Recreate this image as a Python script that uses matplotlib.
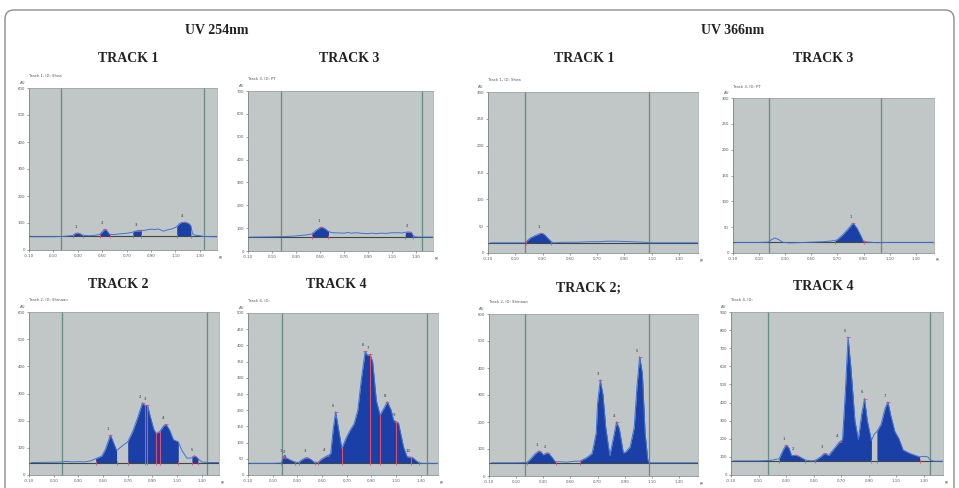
import numpy as np
import matplotlib
matplotlib.use("Agg")
import matplotlib.pyplot as plt
from matplotlib.patches import FancyBboxPatch
from matplotlib.transforms import IdentityTransform

# ---------------- data (Rf vs AU) ----------------
rf_ticks = [-0.10, 0.10, 0.30, 0.50, 0.70, 0.90, 1.10, 1.30]

# UV 254 nm, Track 1
uv254_t1_rf = [-0.08, 0.10, 0.17, 0.22, 0.26, 0.28, 0.30, 0.32, 0.34, 0.40, 0.45, 0.48, 0.51, 0.52,
               0.54, 0.56, 0.60, 0.65, 0.70, 0.75, 0.77, 0.80, 0.82, 0.84, 0.87, 0.90, 0.93, 0.96,
               1.00, 1.03, 1.07, 1.11, 1.13, 1.15, 1.18, 1.21, 1.225, 1.24, 1.26, 1.30, 1.33, 1.44]
uv254_t1_au = [49, 49, 50, 52, 54, 61, 63, 60, 54, 53, 55, 58, 72, 77,
               70, 58, 57, 60, 62, 66, 70, 72, 73, 72, 75, 77, 76, 78,
               70, 74, 78, 86, 97, 102, 103, 98, 90, 60, 55, 53, 50, 49]
uv254_t1_peaks = [0.30, 0.52, 0.80, 1.17]
uv254_t1_fill = [(0.26, 0.34), (0.48, 0.56), (0.75, 0.82), (1.11, 1.225)]

# UV 254 nm, Track 3
uv254_t3_rf = [-0.08, 0.10, 0.20, 0.30, 0.38, 0.43, 0.47, 0.51, 0.54, 0.57, 0.60, 0.65, 0.70, 0.73,
               0.76, 0.80, 0.85, 0.90, 0.93, 0.97, 1.00, 1.05, 1.10, 1.15, 1.19, 1.21, 1.23, 1.26,
               1.27, 1.29, 1.33, 1.44]
uv254_t3_au = [61, 62, 63, 66, 70, 74, 92, 105, 98, 85, 80, 79, 78, 81,
               78, 80, 77, 76, 78, 76, 78, 77, 80, 80, 79, 82, 83, 82,
               70, 62, 61, 61]
uv254_t3_peaks = [0.51, 1.24]
uv254_t3_fill = [(0.43, 0.57), (1.21, 1.27)]

# UV 366 nm, Track 1
uv366_t1_rf = [-0.08, 0.10, 0.17, 0.175, 0.21, 0.25, 0.29, 0.31, 0.33, 0.36, 0.38, 0.45, 0.55, 0.65,
               0.72, 0.77, 0.84, 0.95, 1.05, 1.08, 1.20, 1.44]
uv366_t1_au = [19, 19, 19, 20, 28, 33, 37, 35, 30, 22, 19, 20, 20, 21,
               21, 22, 22, 21, 20, 19, 19, 19]
uv366_t1_peaks = [0.29]
uv366_t1_fill = [(0.175, 0.36)]

# UV 366 nm, Track 3
uv366_t3_rf = [-0.08, 0.10, 0.17, 0.19, 0.22, 0.25, 0.28, 0.33, 0.40, 0.50, 0.60, 0.68, 0.70, 0.74,
               0.78, 0.82, 0.85, 0.88, 0.90, 0.94, 1.00, 1.10, 1.44]
uv366_t3_au = [20.5, 20.5, 21, 25, 29, 26, 21, 19.5, 20, 21, 22, 24, 26, 35,
               46, 58, 48, 33, 22, 21, 20, 20.5, 20.5]
uv366_t3_peaks = [0.82]
uv366_t3_fill = [(0.68, 0.90)]

# UV 254 nm, Track 2
uv254_t2_rf = [-0.08, 0.10, 0.17, 0.20, 0.25, 0.30, 0.35, 0.40, 0.44, 0.49, 0.52, 0.56, 0.58, 0.61,
               0.65, 0.70, 0.74, 0.78, 0.82, 0.84, 0.86, 0.88, 0.91, 0.93, 0.96, 0.99, 1.01, 1.04,
               1.07, 1.11, 1.14, 1.18, 1.22, 1.24, 1.26, 1.27, 1.30, 1.35, 1.44]
uv254_t2_au = [46, 47, 48, 50, 48, 49, 48, 52, 60, 70, 95, 147, 125, 90,
               105, 122, 160, 210, 266, 255, 257, 220, 170, 153, 160, 180, 187, 165,
               130, 122, 90, 62, 63, 71, 65, 60, 48, 46, 46]
uv254_t2_peaks = [0.56, 0.82, 0.86, 1.01, 1.24]
uv254_t2_fill = [(0.44, 0.61), (0.70, 1.11), (1.22, 1.27)]
uv254_t2_splits = [0.84, 0.86, 0.93, 0.96]

# UV 254 nm, Track 4
uv254_t4_rf = [-0.08, 0.10, 0.17, 0.185, 0.20, 0.21, 0.225, 0.25, 0.28, 0.31, 0.33, 0.36, 0.38, 0.41,
               0.44, 0.47, 0.50, 0.54, 0.57, 0.59, 0.61, 0.63, 0.66, 0.70, 0.73, 0.76, 0.79, 0.82,
               0.85, 0.87, 0.89, 0.91, 0.94, 0.97, 1.00, 1.03, 1.06, 1.08, 1.10, 1.12, 1.16, 1.19,
               1.22, 1.24, 1.27, 1.29, 1.32, 1.44]
uv254_t4_au = [36, 36, 37, 55, 62, 52, 50, 45, 40, 38, 45, 52, 54, 48,
               38, 40, 50, 59, 65, 140, 195, 150, 82, 118, 140, 158, 200, 300,
               382, 368, 372, 350, 230, 185, 205, 226, 200, 169, 165, 160, 87, 56,
               55, 52, 42, 37, 36, 36]
uv254_t4_peaks = [0.185, 0.21, 0.38, 0.54, 0.61, 0.85, 0.89, 1.03, 1.10, 1.22]
uv254_t4_fill = [(0.17, 0.28), (0.31, 0.44), (0.47, 1.29)]
uv254_t4_splits = [0.66, 0.89, 0.97, 1.10, 1.22]

# UV 366 nm, Track 2
uv366_t2_rf = [-0.08, 0.10, 0.18, 0.21, 0.24, 0.27, 0.29, 0.30, 0.32, 0.335, 0.36, 0.39, 0.43, 0.47,
               0.54, 0.57, 0.62, 0.66, 0.69, 0.70, 0.72, 0.74, 0.76, 0.79, 0.82, 0.84, 0.86, 0.89,
               0.91, 0.94, 0.97, 0.99, 1.01, 1.03, 1.05, 1.07, 1.08, 1.20, 1.44]
uv366_t2_au = [49, 49, 50, 65, 82, 93, 85, 78, 84, 86, 72, 52, 53, 51,
               55, 55, 68, 84, 160, 270, 356, 300, 180, 75, 150, 201, 175, 85,
               90, 108, 180, 330, 442, 380, 160, 60, 49, 49, 49]
uv366_t2_peaks = [0.27, 0.335, 0.72, 0.84, 1.01]
uv366_t2_fill = [(0.18, 0.39), (0.57, 1.08)]

# UV 366 nm, Track 4
uv366_t4_rf = [-0.08, 0.10, 0.17, 0.20, 0.25, 0.28, 0.30, 0.32, 0.34, 0.36, 0.37, 0.40, 0.44, 0.48,
               0.51, 0.55, 0.58, 0.61, 0.66, 0.69, 0.71, 0.73, 0.75, 0.77, 0.80, 0.825, 0.85, 0.87,
               0.89, 0.92, 0.94, 0.96, 0.99, 1.02, 1.04, 1.06, 1.09, 1.12, 1.15, 1.20, 1.27, 1.30,
               1.33, 1.35, 1.38, 1.44]
uv366_t4_au = [78, 78, 80, 82, 90, 140, 165, 150, 107, 108, 110, 100, 83, 78,
               80, 100, 119, 108, 156, 184, 195, 450, 762, 600, 300, 195, 340, 422,
               300, 190, 225, 240, 280, 370, 404, 330, 240, 200, 138, 119, 100, 103,
               100, 80, 76, 76]
uv366_t4_peaks = [0.30, 0.37, 0.58, 0.69, 0.75, 0.87, 1.04]
uv366_t4_fill = [(0.25, 0.44), (0.51, 0.92), (0.96, 1.27)]

# ---------------- styling ----------------
W, H = 959, 488
fig = plt.figure(figsize=(W / 100, H / 100), dpi=100)
fig.patch.set_facecolor("white")

BG = "#c0c7c6"
GREEN = "#678c83"
BASE = "#3e4848"
TRACE = "#3f72d6"
FILL = "#1a3fa6"
RED = "#e0506e"

def add_panel(box, rf, au, baseline, ymax, ystep, start, front, fills, peaks,
              head, splits=()):
    l, t, r, b = box
    ax = fig.add_axes([l / W, 1 - b / H, (r - l) / W, (b - t) / H])
    ax.set_facecolor(BG)
    x = np.array(rf)
    y = np.array(au)
    ax.set_xlim(-0.10, 1.44)
    ax.set_ylim(0, ymax)
    ax.axvline(start, color=GREEN, lw=0.9, zorder=1)
    ax.axvline(front, color=GREEN, lw=0.9, zorder=1)
    for a, c in fills:
        m = (x >= a - 1e-9) & (x <= c + 1e-9)
        ax.fill_between(x[m], y[m], baseline, color=FILL, lw=0, zorder=2)
    ax.plot(x, y, color=TRACE, lw=0.7, zorder=3)
    ax.axhline(baseline, color=BASE, lw=0.8, zorder=2.5)
    for s in splits:
        ax.plot([s, s], [baseline, np.interp(s, x, y)], color=RED, lw=0.8, zorder=3.5)
    edges = sorted({v for pair in fills for v in pair} | set(splits))
    ax.plot(edges, [baseline] * len(edges), ls="none", marker="|", ms=2.5,
            mew=0.6, color=RED, zorder=4)
    for i, p in enumerate(peaks):
        py = np.interp(p, x, y)
        ax.plot([p], [py], marker="_", ms=2.5, mew=0.6, color=RED, zorder=4)
        ax.text(p - 0.02, py + ymax * 0.025, str(i + 1), fontsize=2.8,
                color="#333", ha="center", va="bottom")
    ax.set_xticks(rf_ticks)
    ax.set_xticklabels([f"{v:.2f}" for v in rf_ticks])
    yt = np.arange(0, ymax + 0.1, ystep)
    ax.set_yticks(yt)
    ax.set_yticklabels([f"{v:g}" for v in yt])
    ax.tick_params(labelsize=2.8, length=1.5, width=0.4, pad=1.5,
                   colors="#555555")
    for sp in ax.spines.values():
        sp.set_color("#9aa2a2")
        sp.set_linewidth(0.5)
    ax.spines["left"].set_color("#707878")
    ax.spines["bottom"].set_color("#707878")
    ax.text(-0.02, 1.02, "AU", transform=ax.transAxes, fontsize=2.8,
            color="#555", ha="right", va="bottom")
    ax.text(1.01, -0.035, "Rf", transform=ax.transAxes, fontsize=2.6,
            color="#555", ha="left", va="top")
    ax.text(0.0, 1.06, head, transform=ax.transAxes, fontsize=2.8,
            color="#555", ha="left", va="bottom")
    return ax

add_panel((29, 88, 217, 250), uv254_t1_rf, uv254_t1_au, 50, 600, 100, 0.166, 1.336,
          uv254_t1_fill, uv254_t1_peaks, "Track 1, ID: Shea")
add_panel((248, 91, 433, 251), uv254_t3_rf, uv254_t3_au, 61, 700, 100, 0.172, 1.348,
          uv254_t3_fill, uv254_t3_peaks, "Track 3, ID: PT")
add_panel((488, 92, 698, 253), uv366_t1_rf, uv366_t1_au, 19, 300, 50, 0.169, 1.078,
          uv366_t1_fill, uv366_t1_peaks, "Track 1, ID: Shea")
add_panel((733, 98, 934, 253), uv366_t3_rf, uv366_t3_au, 20.5, 300, 50, 0.175, 1.032,
          uv366_t3_fill, uv366_t3_peaks, "Track 3, ID: PT")
add_panel((29, 312, 219, 475), uv254_t2_rf, uv254_t2_au, 46, 600, 100, 0.167, 1.343,
          uv254_t2_fill, uv254_t2_peaks, "Track 2, ID: Shinaan", uv254_t2_splits)
add_panel((248, 313, 438, 475), uv254_t4_rf, uv254_t4_au, 36, 500, 50, 0.176, 1.351,
          uv254_t4_fill, uv254_t4_peaks, "Track 4, ID:", uv254_t4_splits)
add_panel((489, 314, 698, 476), uv366_t2_rf, uv366_t2_au, 49, 600, 100, 0.163, 1.076,
          uv366_t2_fill, uv366_t2_peaks, "Track 2, ID: Shinaan")
add_panel((731, 312, 943, 475), uv366_t4_rf, uv366_t4_au, 75, 900, 100, 0.168, 1.348,
          uv366_t4_fill, uv366_t4_peaks, "Track 4, ID:")

# ---------------- titles ----------------
serif = dict(family=["Liberation Serif", "DejaVu Serif"], weight="bold", color="#222222")
def ftext(px, py, s, size=10):
    fig.text(px / W, 1 - py / H, s, ha="center", va="center", fontsize=size, **serif)

ftext(217, 31, "UV 254nm")
ftext(733, 31, "UV 366nm")
ftext(128, 58, "TRACK 1")
ftext(349, 58, "TRACK 3")
ftext(584, 58, "TRACK 1")
ftext(823, 58, "TRACK 3")
ftext(118, 285, "TRACK 2")
ftext(336, 285, "TRACK 4")
ftext(588, 288, "TRACK 2;")
ftext(823, 286, "TRACK 4")

# outer rounded frame (pixel coordinates)
frame = FancyBboxPatch((5, -20), 949, H - 10 + 20,
                       boxstyle="round,pad=0,rounding_size=9",
                       transform=IdentityTransform(), fill=False,
                       edgecolor="#8c8c8c", linewidth=1.0)
fig.patches.append(frame)

fig.savefig("out.png", dpi=100, facecolor="white")
